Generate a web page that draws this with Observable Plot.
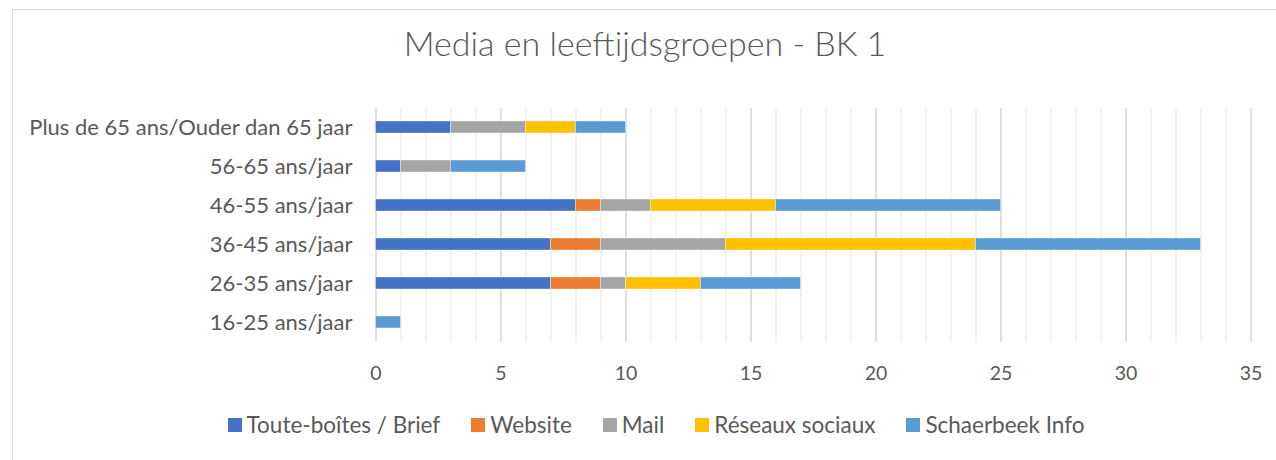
<!DOCTYPE html>
<html>
<head>
<meta charset="utf-8">
<script src="https://cdn.jsdelivr.net/npm/d3@7"></script>
<script src="https://cdn.jsdelivr.net/npm/@observablehq/plot@0.6"></script>
<style>
  html, body { margin: 0; padding: 0; background: #fff; }
  #chart {
    position: relative; width: 1276px; height: 460px; overflow: hidden;
    font-family: Lato, "Open Sans", sans-serif; color: #595959;
  }
  #frame {
    position: absolute; left: 12px; top: 9px; width: 1400px; height: 600px;
    border-top: 1.5px solid #d9d9d9; border-left: 1.5px solid #d9d9d9;
  }
  #title {
    position: absolute; left: 0; top: 23px; width: 1290px; text-align: center;
    font-size: 34px; line-height: 40px; font-weight: 300; color: #595959;
  }
  #plot { position: absolute; left: 0; top: 95px; }
  #legend {
    position: absolute; left: 0; top: 411px; width: 1312px;
    display: flex; justify-content: center; gap: 31px;
    font-size: 22.5px; line-height: 28px; color: #595959;
  }
  #legend .item { display: flex; align-items: center; gap: 5px; }
  #legend .sw { width: 14px; height: 14px; }
</style>
</head>
<body>
<div id="chart">
  <div id="frame"></div>
  <div id="title">Media en leeftijdsgroepen - BK 1</div>
  <div id="plot"></div>
  <div id="legend"></div>
</div>
<script>
// Age groups, listed top to bottom
const ageGroups = [
  "Plus de 65 ans/Ouder dan 65 jaar",
  "56-65 ans/jaar",
  "46-55 ans/jaar",
  "36-45 ans/jaar",
  "26-35 ans/jaar",
  "16-25 ans/jaar"
];

// Media channels, in stacking order
const channels = ["Toute-boîtes / Brief", "Website", "Mail", "Réseaux sociaux", "Schaerbeek Info"];
const channelColors = ["#4472C4", "#ED7D31", "#A5A5A5", "#FFC000", "#5B9BD5"];

// Counts per age group (same order as ageGroups)
const toutesBoites   = [3, 1, 8, 7, 7, 0];
const website        = [0, 0, 1, 2, 2, 0];
const mail           = [3, 2, 2, 5, 1, 0];
const reseauxSociaux = [2, 0, 5, 10, 3, 0];
const schaerbeekInfo = [2, 3, 9, 9, 4, 1];

// Axis ticks
const xTicks = [0, 5, 10, 15, 20, 25, 30, 35];
const xMinorTicks = d3.range(0, 36);

const seriesValues = [toutesBoites, website, mail, reseauxSociaux, schaerbeekInfo];
const rows = [];
channels.forEach((ch, i) => {
  ageGroups.forEach((g, j) => {
    rows.push({ channel: ch, group: g, value: seriesValues[i][j] });
  });
});

const chart = Plot.plot({
  width: 1276,
  height: 292,
  marginTop: 13,
  marginBottom: 45,
  marginLeft: 375.5,
  marginRight: 25.5,
  style: { fontFamily: "Lato, 'Open Sans', sans-serif", fontSize: "22px", color: "#595959", background: "transparent" },
  x: { domain: [0, 35], ticks: xTicks },
  y: { domain: ageGroups, paddingInner: 0.69, paddingOuter: 0.345 },
  color: { domain: channels, range: channelColors },
  marks: [
    Plot.ruleX(xMinorTicks, { stroke: "#eeeeee", strokeWidth: 1.5 }),
    Plot.ruleX(xTicks, { stroke: "#d9d9d9", strokeWidth: 1.5 }),
    Plot.barX(rows, Plot.stackX({
      x: "value", y: "group", fill: "channel",
      order: null, stroke: "#ffffff", strokeWidth: 0.6, strokeOpacity: 0.6
    })),
    Plot.axisX({ ticks: xTicks, tickSize: 0, tickPadding: 24, label: null, fill: "#595959", fontSize: 19.5 }),
    Plot.axisY({ tickSize: 0, tickPadding: 23.5, label: null, fill: "#595959" })
  ]
});
document.getElementById("plot").appendChild(chart);

// Legend below the plot
const legend = document.getElementById("legend");
channels.forEach((ch, i) => {
  const item = document.createElement("div");
  item.className = "item";
  const sw = document.createElement("span");
  sw.className = "sw";
  sw.style.background = channelColors[i];
  const label = document.createElement("span");
  label.textContent = ch;
  item.appendChild(sw);
  item.appendChild(label);
  legend.appendChild(item);
});
</script>
</body>
</html>
